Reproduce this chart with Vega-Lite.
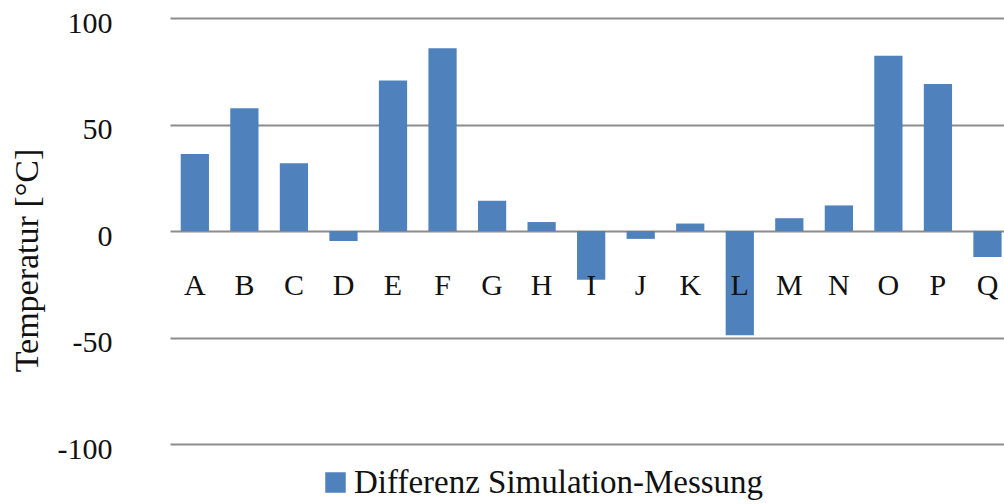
{
  "$schema": "https://vega.github.io/schema/vega-lite/v6.json",
  "width": 834,
  "height": 426,
  "autosize": {"type": "none"},
  "padding": {"left": 170, "top": 18, "right": 0, "bottom": 60},
  "background": "white",
  "config": {
    "view": {"stroke": null},
    "font": "Liberation Serif, DejaVu Serif, serif",
    "axis": {"labelFont": "Liberation Serif, DejaVu Serif, serif", "titleFont": "Liberation Serif, DejaVu Serif, serif"},
    "legend": {"labelFont": "Liberation Serif, DejaVu Serif, serif", "titleFont": "Liberation Serif, DejaVu Serif, serif"}
  },
  "data": {
    "values": [
      {"Messpunkt": "A", "Differenz": 36.2, "Reihe": "Differenz Simulation-Messung"},
      {"Messpunkt": "B", "Differenz": 57.6, "Reihe": "Differenz Simulation-Messung"},
      {"Messpunkt": "C", "Differenz": 31.8, "Reihe": "Differenz Simulation-Messung"},
      {"Messpunkt": "D", "Differenz": -4.7, "Reihe": "Differenz Simulation-Messung"},
      {"Messpunkt": "E", "Differenz": 70.6, "Reihe": "Differenz Simulation-Messung"},
      {"Messpunkt": "F", "Differenz": 85.8, "Reihe": "Differenz Simulation-Messung"},
      {"Messpunkt": "G", "Differenz": 14.2, "Reihe": "Differenz Simulation-Messung"},
      {"Messpunkt": "H", "Differenz": 4.2, "Reihe": "Differenz Simulation-Messung"},
      {"Messpunkt": "I", "Differenz": -22.9, "Reihe": "Differenz Simulation-Messung"},
      {"Messpunkt": "J", "Differenz": -3.7, "Reihe": "Differenz Simulation-Messung"},
      {"Messpunkt": "K", "Differenz": 3.5, "Reihe": "Differenz Simulation-Messung"},
      {"Messpunkt": "L", "Differenz": -49.0, "Reihe": "Differenz Simulation-Messung"},
      {"Messpunkt": "M", "Differenz": 6.0, "Reihe": "Differenz Simulation-Messung"},
      {"Messpunkt": "N", "Differenz": 12.0, "Reihe": "Differenz Simulation-Messung"},
      {"Messpunkt": "O", "Differenz": 82.3, "Reihe": "Differenz Simulation-Messung"},
      {"Messpunkt": "P", "Differenz": 69.0, "Reihe": "Differenz Simulation-Messung"},
      {"Messpunkt": "Q", "Differenz": -12.2, "Reihe": "Differenz Simulation-Messung"}
    ]
  },
  "mark": {"type": "bar"},
  "encoding": {
    "x": {
      "field": "Messpunkt",
      "type": "nominal",
      "sort": null,
      "scale": {"paddingInner": 0.43, "paddingOuter": 0.1325, "align": 0.817},
      "axis": {
        "title": null,
        "orient": "bottom",
        "offset": -213,
        "zindex": 2,
        "domain": false,
        "ticks": false,
        "tickSize": 0,
        "grid": false,
        "labelAngle": 0,
        "labelFontSize": 30,
        "labelColor": "#111111",
        "labelBaseline": "alphabetic",
        "labelPadding": 63
      }
    },
    "y": {
      "field": "Differenz",
      "type": "quantitative",
      "scale": {"domain": [-100, 100], "nice": false, "zero": true},
      "axis": {
        "title": "Temperatur [°C]",
        "values": [-100, -50, 0, 50, 100],
        "labelExpr": "datum.value + ''",
        "domain": false,
        "ticks": false,
        "tickSize": 0,
        "grid": true,
        "gridColor": "#8c8c8c",
        "gridWidth": 2,
        "gridOpacity": 1,
        "labelFontSize": 30,
        "labelColor": "#111111",
        "labelAlign": "right",
        "labelBaseline": "alphabetic",
        "labelOffset": 14,
        "labelPadding": 58,
        "titleFontSize": 34,
        "titleFontWeight": "normal",
        "titleColor": "#111111",
        "titleAngle": 270,
        "titleAlign": "center",
        "titleBaseline": "alphabetic",
        "titleX": -133,
        "titleY": 242
      }
    },
    "color": {
      "field": "Reihe",
      "type": "nominal",
      "scale": {"range": ["#4F81BD"]},
      "legend": {
        "title": null,
        "orient": "none",
        "legendX": 149,
        "legendY": 448,
        "padding": 0,
        "symbolType": "square",
        "symbolSize": 420,
        "symbolStrokeWidth": 0,
        "symbolOpacity": 1,
        "labelFontSize": 33,
        "labelColor": "#111111",
        "labelOffset": 2,
        "labelLimit": 600
      }
    }
  }
}
